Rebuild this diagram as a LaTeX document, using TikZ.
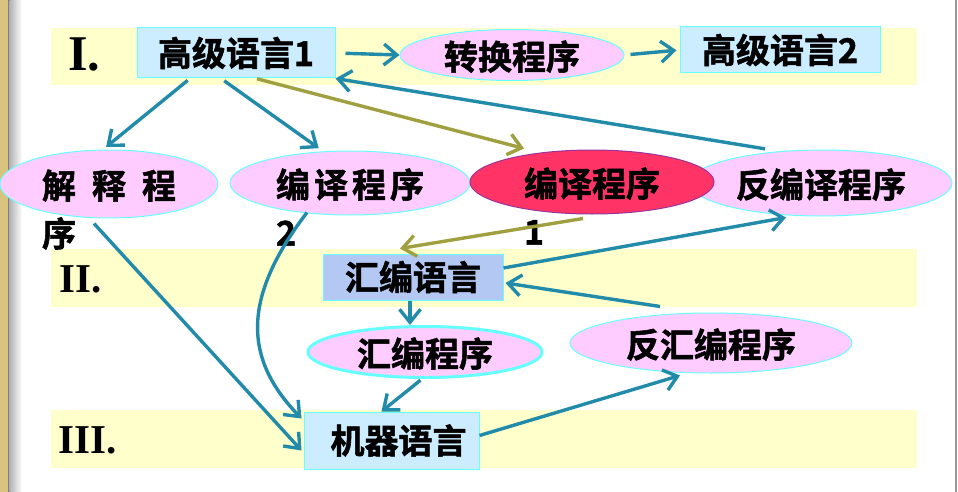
\documentclass[tikz,border=0pt]{standalone}
\usepackage{fontspec}
\newfontfamily\cjk{Noto Sans CJK SC}[BoldFont={Noto Sans CJK SC Bold},BoldFeatures={FakeBold=1.6}]
\newfontfamily\romfont{Liberation Serif}
\usetikzlibrary{shapes.geometric,arrows.meta}
\definecolor{bandyellow}{HTML}{FFFFCC}
\definecolor{boxblue}{HTML}{CCECFF}
\definecolor{asmblue}{HTML}{B4C8F4}
\definecolor{edgecyan}{HTML}{66FFFF}
\definecolor{ellpink}{HTML}{FFCCFF}
\definecolor{hotred}{HTML}{FF3366}
\definecolor{rimpurple}{HTML}{993399}
\definecolor{flowteal}{HTML}{228BAA}
\definecolor{flowolive}{HTML}{A0A040}
\definecolor{railgold}{HTML}{D8C47E}
\tikzset{
  cjktext/.style={font=\cjk\bfseries\fontsize{34}{48}\selectfont},
  langbox/.style={cjktext, draw=edgecyan, fill=boxblue, line width=1pt, inner sep=0pt},
  progell/.style={cjktext, ellipse, draw=edgecyan, fill=ellpink, line width=1pt,
    inner sep=0pt, text depth=0pt},
  lvl/.style={font=\romfont\bfseries\fontsize{41}{41}\selectfont},
  flow/.style={draw=flowteal, line width=3.4pt, -{Straight Barb[length=13pt,width=21pt]}},
  oliveflow/.style={flow, draw=flowolive},
}
\begin{document}
\begin{tikzpicture}[x=1pt,y=-1pt]
            \useasboundingbox (0,0) rectangle (958,492);
            % slide edges
            \fill[railgold] (0,0) rectangle (8,492);
            \fill[gray] (8,0) rectangle (9.5,492);
            \shade[left color=gray!60, right color=white] (9.5,0) rectangle (22,492);
            \fill[gray!80] (955,0) rectangle (957,492);
            % level bands
            \foreach \ya/\yb in {28/85,249/307,410/468}
                \fill[bandyellow] (51,\ya) rectangle (917,\yb);
            \node[lvl,font=\romfont\bfseries\fontsize{50}{50}\selectfont] (lvlone) at (84,54) {I.};
            \node[lvl] (lvltwo) at (81,279) {II.};
            \node[lvl] (lvlthree) at (88,440) {III.};
            % languages
            \node[langbox,minimum width=198pt,minimum height=50pt] (hl1) at (236,53) {高级语言1\hspace{22pt}};
            \node[langbox,minimum width=200pt,minimum height=46pt] (hl2) at (780,50) {高级语言2};
            \node[langbox,fill=asmblue,minimum width=180pt,minimum height=46pt] (asmlang) at (413,277) {汇编语言};
            \node[langbox,minimum width=175pt,minimum height=57pt] (mach) at (391.5,440.5) {\hspace{14pt}机器语言};
            % programs
            \node[progell,minimum width=224pt,minimum height=51pt] (conv) at (512,55) {转换程序};
            \node[progell,minimum width=218pt,minimum height=68pt] (interp) at (109,184)
                {\vtop{\hbox{解\hspace{16pt}释\hspace{16pt}程}\hbox{序}}};
            \node[progell,minimum width=240pt,minimum height=64pt] (comp2) at (350,183)
                {\vtop{\hbox{编\hspace{4pt}译\hspace{4pt}程\hspace{4pt}序}\hbox{2}}};
            \node[progell,minimum width=262pt,minimum height=66pt] (decomp) at (821,183) {反编译程序};
            \node[progell,fill=hotred,draw=rimpurple,minimum width=244pt,minimum height=64pt] (comp1) at (592,182)
                {\vtop{\hbox{编译程序}\hbox{1}}};
            \node[progell,line width=3pt,minimum width=234pt,minimum height=51pt] (asmprog) at (425,352) {汇编程序};
            \node[progell,minimum width=282pt,minimum height=60pt] (disasm) at (711,343) {反汇编程序};
            % connectors
            \draw[flow,shorten <=10pt] (hl1.east) -- (conv.west);
            \draw[flow,shorten <=6pt,shorten >=3pt] (conv.east) -- (hl2.west);
            \draw[flow,shorten <=3pt,shorten >=4pt] ([xshift=-46pt]hl1.south) -- ([xshift=-6pt]interp.north);
            \draw[flow,shorten <=4pt,shorten >=4pt] ([xshift=-15pt]hl1.south) -- ([xshift=-28pt]comp2.north);
            \draw[oliveflow,shorten <=1pt,shorten >=4pt] ([xshift=20pt]hl1.south) -- ([xshift=-64pt]comp1.north);
            \draw[flow,shorten <=4pt] ([xshift=-52pt]decomp.north) -- (hl1.south east);
            \draw[oliveflow] ([shift={(-9,4)}]comp1.south) -- ([shift={(-13,-5)}]asmlang.north);
            \draw[flow] ([shift={(0,-9)}]asmlang.east) -- ([shift={(-35,1)}]decomp.south);
            \draw[flow] ([shift={(-51,-6)}]disasm.north) -- ([shift={(2,6)}]asmlang.east);
            \draw[flow] ([xshift=-3pt]asmlang.south) -- ([xshift=-15pt]asmprog.north);
            \draw[flow,shorten <=2pt] ([xshift=-3pt]asmprog.south) -- ([xshift=-10pt]mach.north);
            \draw[flow] ([shift={(-15,5)}]interp.south) -- ([shift={(-2,10)}]mach.west);
            \draw[flow] ([shift={(-43,-3)}]comp2.south) .. controls (240,300) and (245,360) .. ([shift={(-2,-22)}]mach.west);
            \draw[flow] ([shift={(0,-5)}]mach.east) -- ([shift={(-31,2)}]disasm.south);
        \end{tikzpicture}
\end{document}
